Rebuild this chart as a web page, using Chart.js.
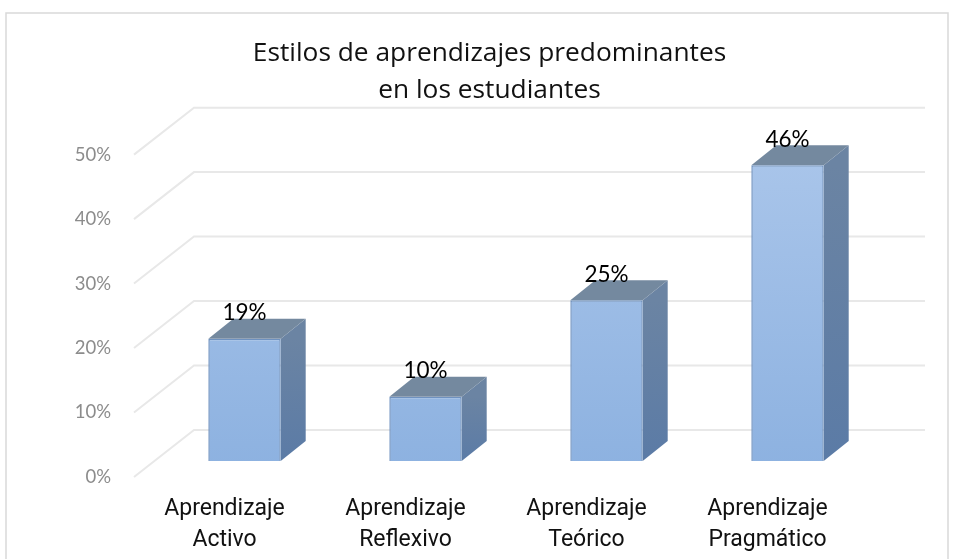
<!DOCTYPE html>
<html>
<head>
    <meta charset="utf-8">
    <title>Estilos de aprendizajes</title>
    <style>
        body { margin: 0; background-color: #fff; }
        #wrap { width: 955px; height: 559px; }
    </style>
    <script src="https://cdn.jsdelivr.net/npm/chart.js"></script>
</head>
<body>
    <div id="wrap"><canvas id="chart" width="955" height="559"></canvas></div>
    <script>
        const categories = [['Aprendizaje', 'Activo'], ['Aprendizaje', 'Reflexivo'], ['Aprendizaje', 'Teórico'], ['Aprendizaje', 'Pragmático']];
        const values = [19, 10, 25, 46];
        const titleLines = ['Estilos de aprendizajes predominantes', 'en los estudiantes'];

        // 3D look: depth of the bars and of the side wall
        const barDx = 25, barDy = -20;
        const wallDx = 60, wallDy = -47;
        const frontShift = 20;

        function poly(ctx, pts, fill) {
            ctx.beginPath();
            pts.forEach((p, i) => i ? ctx.lineTo(p[0], p[1]) : ctx.moveTo(p[0], p[1]));
            ctx.closePath();
            ctx.fillStyle = fill;
            ctx.fill();
        }

        const frame3d = {
            id: 'frame3d',
            beforeDraw(chart) {
                const ctx = chart.ctx;
                ctx.save();
                ctx.strokeStyle = '#d9d9d9';
                ctx.lineWidth = 1.5;
                ctx.beginPath();
                ctx.moveTo(6, 560);
                ctx.lineTo(6, 13);
                ctx.lineTo(948, 13);
                ctx.lineTo(948, 560);
                ctx.stroke();
                ctx.restore();
            },
            beforeDatasetsDraw(chart) {
                const ctx = chart.ctx, a = chart.chartArea, y = chart.scales.y;
                ctx.save();
                // wall grid
                ctx.strokeStyle = '#e8e8e8';
                ctx.lineWidth = 2;
                y.ticks.forEach(t => {
                    const py = y.getPixelForValue(t.value);
                    const x0 = a.left - frontShift;
                    ctx.beginPath();
                    ctx.moveTo(x0, py);
                    ctx.lineTo(x0 + wallDx, py + wallDy);
                    ctx.lineTo(a.right + 47, py + wallDy);
                    ctx.stroke();
                });
                // bar sides and tops
                chart.getDatasetMeta(0).data.forEach(b => {
                    const r = b.x + b.width / 2, l = b.x - b.width / 2;
                    const side = ctx.createLinearGradient(0, b.y, 0, b.base);
                    side.addColorStop(0, '#6b84a3');
                    side.addColorStop(1, '#5b7ba6');
                    poly(ctx, [[r, b.y], [r + barDx, b.y + barDy], [r + barDx, b.base + barDy], [r, b.base]], side);
                    poly(ctx, [[l, b.y], [l + barDx, b.y + barDy], [r + barDx, b.y + barDy], [r, b.y]], '#74899f');
                });
                ctx.restore();
            },
            afterDatasetsDraw(chart) {
                const ctx = chart.ctx;
                ctx.save();
                ctx.fillStyle = '#000';
                ctx.font = '22.5px Lato';
                ctx.textAlign = 'center';
                ctx.textBaseline = 'middle';
                chart.getDatasetMeta(0).data.forEach((b, i) => {
                    ctx.fillText(values[i] + '%', b.x, b.y - 26);
                });
                ctx.restore();
            }
        };

        new Chart(document.getElementById('chart'), {
            type: 'bar',
            data: {
                labels: categories,
                datasets: [{
                    data: values,
                    yAxisID: 'yBars',
                    barPercentage: 0.4,
                    categoryPercentage: 1,
                    borderWidth: 1.5,
                    borderColor: '#6f92c0',
                    backgroundColor(c) {
                        const area = c.chart.chartArea;
                        if (!area) return '#9dbde6';
                        const el = c.chart.getDatasetMeta(0).data[c.dataIndex];
                        const top = el && el.y ? el.y : area.top;
                        const base = el && el.base ? el.base : area.bottom;
                        const g = c.chart.ctx.createLinearGradient(0, top, 0, base);
                        g.addColorStop(0, '#a9c5ea');
                        g.addColorStop(1, '#8cb1e0');
                        return g;
                    }
                }]
            },
            options: {
                responsive: false,
                animation: false,
                layout: { padding: { top: 35, left: 24, right: 0, bottom: 0 } },
                plugins: {
                    legend: { display: false },
                    tooltip: { enabled: false },
                    title: {
                        display: true,
                        text: titleLines,
                        color: '#111',
                        font: { family: 'Open Sans', size: 26.3, weight: 'normal', lineHeight: 1.4 },
                        padding: { top: 0, bottom: 46 }
                    }
                },
                scales: {
                    x: {
                        grid: { display: false, drawTicks: false },
                        border: { display: false },
                        afterFit(s) { s.height = 82; },
                        ticks: {
                            labelOffset: -20,
                            padding: 17,
                            maxRotation: 0,
                            color: '#111',
                            font: { family: 'Roboto', size: 23, lineHeight: 1.35 }
                        }
                    },
                    y: {
                        min: 0,
                        max: 50,
                        grid: { display: false },
                        border: { display: false },
                        afterFit(s) { s.width = 130; },
                        ticks: { stepSize: 10, padding: 35, color: '#8c8c8c', font: { family: 'Lato', size: 18.5 }, callback: v => v + '%' }
                    },
                    // bars stand on the front edge of the floor, above the tick labels
                    yBars: {
                        position: 'right',
                        min: -2.49,
                        max: 47.66,
                        grid: { display: false },
                        border: { display: false },
                        afterFit(s) { s.width = 77; },
                        ticks: { display: false }
                    }
                }
            },
            plugins: [frame3d]
        });
    </script>
</body>
</html>
